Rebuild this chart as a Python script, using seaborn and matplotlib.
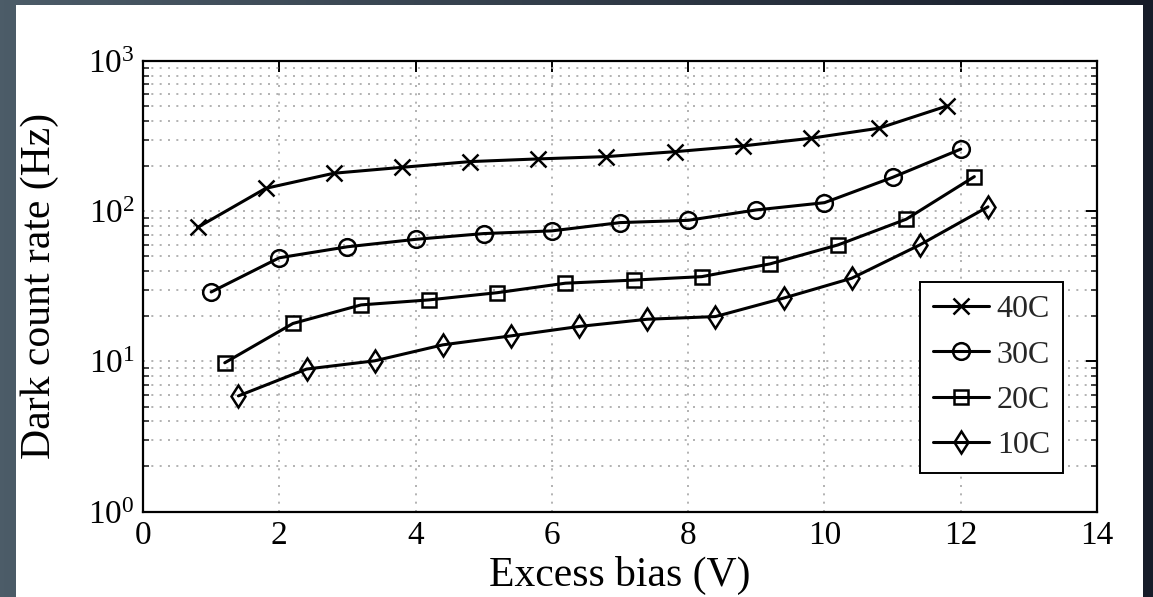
import numpy as np
import pandas as pd
import matplotlib
matplotlib.use("Agg")
import matplotlib.pyplot as plt
import matplotlib.ticker as mticker
from matplotlib.patches import Rectangle
import seaborn as sns

# ---- data ----
x_40 = [0.8, 1.8, 2.8, 3.8, 4.8, 5.8, 6.8, 7.8, 8.8, 9.8, 10.8, 11.8]
y_40 = [78, 142, 179, 196, 214, 223, 231, 249, 272, 306, 357, 502]
x_30 = [1.0, 2.0, 3.0, 4.0, 5.0, 6.0, 7.0, 8.0, 9.0, 10.0, 11.0, 12.0]
y_30 = [29, 49, 58, 65, 71, 74, 84, 87, 102, 114, 168, 259]
x_20 = [1.2, 2.2, 3.2, 4.2, 5.2, 6.2, 7.2, 8.2, 9.2, 10.2, 11.2, 12.2]
y_20 = [9.8, 17.9, 23.8, 25.7, 28.7, 33.2, 34.8, 36.7, 44.6, 59.7, 88.5, 170]
x_10 = [1.4, 2.4, 3.4, 4.4, 5.4, 6.4, 7.4, 8.4, 9.4, 10.4, 11.4, 12.4]
y_10 = [5.9, 8.9, 10.1, 12.9, 14.8, 17.1, 19.1, 19.9, 26.4, 35.8, 59.7, 107]
labels = ["40C", "30C", "20C", "10C"]
x_ticks = [0, 2, 4, 6, 8, 10, 12, 14]
x_label = "Excess bias (V)"
y_label = "Dark count rate (Hz)"

series = [(x_40, y_40), (x_30, y_30), (x_20, y_20), (x_10, y_10)]
marker_styles = {"40C": ("x", 12), "30C": ("o", 12), "20C": ("s", 10.5), "10C": ("d", 11.5)}

sns.set_theme(style="white")
plt.rcParams["font.family"] = ["Liberation Serif", "DejaVu Serif"]
plt.rcParams["mathtext.fontset"] = "custom"
plt.rcParams["mathtext.rm"] = "Liberation Serif"

W, H = 1153, 597
fig = plt.figure(figsize=(W / 100, H / 100), dpi=100)

# background gradient + white panel
bg = fig.add_axes([0, 0, 1, 1], zorder=-10)
c0 = np.array([0x4c, 0x5c, 0x68]) / 255.0
c1 = np.array([0x17, 0x1c, 0x29]) / 255.0
t = np.linspace(0, 1, 256)[None, :, None]
grad = c0 * (1 - t) + c1 * t
bg.imshow(grad, aspect="auto", extent=[0, 1, 0, 1])
bg.add_patch(Rectangle((16 / W, 0), (1143 - 16) / W, (H - 5) / H,
                       facecolor="white", edgecolor="none"))
bg.set_xlim(0, 1); bg.set_ylim(0, 1)
bg.axis("off")

ax = fig.add_axes([143 / W, (H - 511.7) / H, (1097 - 143) / W, (511.7 - 61) / H])
ax.set_facecolor("none")

for (xs, ys), lab in zip(series, labels):
    df = pd.DataFrame({"x": xs, "y": ys})
    m, ms = marker_styles[lab]
    sns.lineplot(data=df, x="x", y="y", ax=ax, color="black", linewidth=2.2,
                 marker=m, markersize=ms, markerfacecolor="none",
                 markeredgecolor="black", markeredgewidth=1.8, label=lab,
                 legend=False)

ax.set_yscale("log")
ax.set_xlim(0, 14)
ax.set_ylim(1, 1000)
ax.set_xticks(x_ticks)
ax.set_xticklabels([str(v) for v in x_ticks])
ax.yaxis.set_major_locator(mticker.LogLocator(base=10, numticks=10))
ax.yaxis.set_minor_locator(mticker.LogLocator(base=10, subs=np.arange(2, 10), numticks=20))
ax.yaxis.set_minor_formatter(mticker.NullFormatter())

grid_ls = (0, (1.2, 3.8))
ax.grid(True, which="major", axis="x", color="#a6a6a6", linestyle=grid_ls, linewidth=1.2)
ax.grid(True, which="both", axis="y", color="#a6a6a6", linestyle=grid_ls, linewidth=1.2)

ax.tick_params(axis="both", which="major", direction="in", length=8, width=1.4,
               top=True, right=True, labelsize=24, colors="black", pad=6)
ax.tick_params(axis="y", which="minor", direction="in", length=4, width=1.2,
               left=True, right=True)
for sp in ax.spines.values():
    sp.set_color("black")
    sp.set_linewidth(1.6)

ax.set_xlabel(x_label, fontsize=30, color="black", labelpad=4)
ax.set_ylabel(y_label, fontsize=30, color="black", labelpad=21)

handles, labs = ax.get_legend_handles_labels()
leg = ax.legend(handles, labs, loc="lower right",
                bbox_to_anchor=(1063 / W, (H - 473) / H), bbox_transform=fig.transFigure,
                borderaxespad=0, fontsize=23, frameon=True, fancybox=False,
                edgecolor="black", handlelength=1.75, handletextpad=0.25,
                labelspacing=0.5, borderpad=0.4)
leg.get_frame().set_linewidth(1.4)
leg.get_frame().set_facecolor("white")
leg.get_frame().set_alpha(1)

fig.savefig("out.png", dpi=100)
